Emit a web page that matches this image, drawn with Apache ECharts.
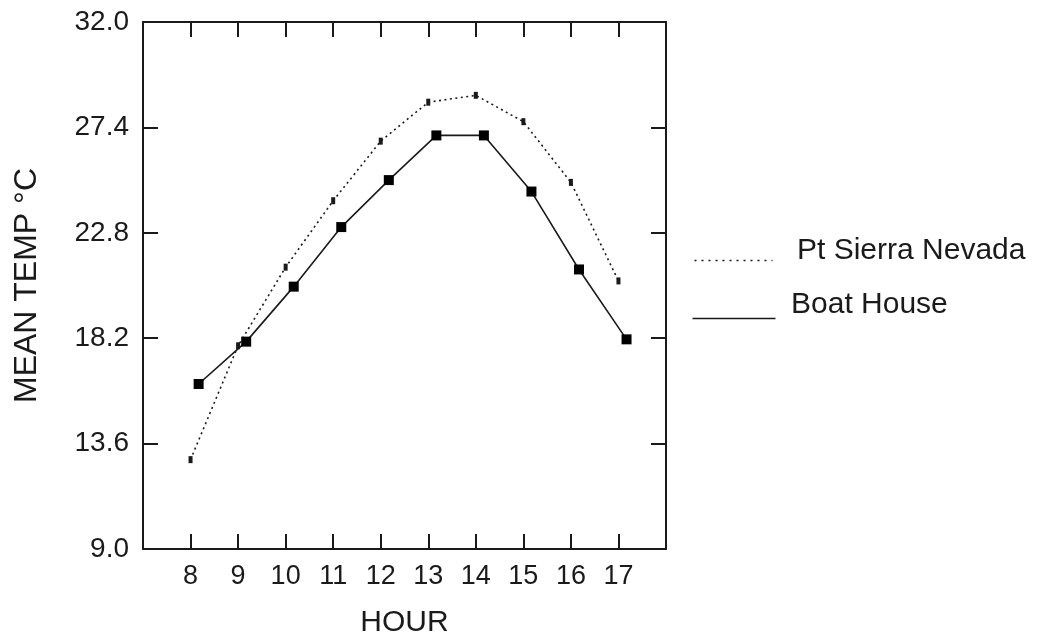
<!DOCTYPE html>
<html>
<head>
<meta charset="utf-8">
<title>Mean temperature by hour</title>
<script src="https://cdn.jsdelivr.net/npm/echarts@6.0.0/dist/echarts.min.js"></script>
<style>
  html, body { margin: 0; padding: 0; background: #fff; }
  #chart { width: 1038px; height: 634px; }
</style>
</head>
<body>
<div id="chart"></div>
<script>
  // hour ticks and the two sites
  var sierraHours = [8, 9, 10, 11, 12, 13, 14, 15, 16, 17];
  var sierraTemp = [12.9, 17.87, 21.3, 24.2, 26.8, 28.5, 28.8, 27.65, 25.0, 20.7];
  // boat house readings sit a little after the hour
  var boatHours = [8.17, 9.17, 10.17, 11.17, 12.17, 13.17, 14.17, 15.17, 16.17, 17.17];
  var boatTemp = [16.2, 18.05, 20.45, 23.05, 25.1, 27.05, 27.05, 24.6, 21.2, 18.15];
  var tempTicks = [9.0, 13.6, 18.2, 22.8, 27.4, 32.0];

  var ink = '#1a1a1a';
  var font = '"Liberation Sans", Arial, sans-serif';

  var myChart = echarts.init(document.getElementById('chart'));

  function pairs(xs, ys) {
    var out = [];
    for (var i = 0; i < xs.length; i++) out.push([xs[i], ys[i]]);
    return out;
  }

  var frameLine = { show: true, onZero: false, lineStyle: { color: ink, width: 2 } };
  var frameTick = { show: true, inside: true, length: 15, lineStyle: { color: ink, width: 2 } };

  option = {
    animation: false,
    backgroundColor: '#fff',
    grid: { left: 143, right: 372, top: 22, bottom: 85, containLabel: false, outerBoundsMode: 'none' },
    xAxis: [
      {
        type: 'value', position: 'bottom', min: 7, max: 18, interval: 1,
        axisLine: frameLine,
        axisTick: frameTick,
        splitLine: { show: false },
        axisLabel: {
          margin: 14, color: ink, fontSize: 27, fontFamily: font,
          formatter: function (v) { return (v === 7 || v === 18) ? '' : String(v); }
        },
        name: 'HOUR', nameLocation: 'middle', nameGap: 59,
        nameTextStyle: { color: ink, fontSize: 30, fontFamily: font }
      },
      {
        type: 'value', position: 'top', min: 7, max: 18, interval: 1,
        axisLine: frameLine,
        axisTick: frameTick,
        axisLabel: { show: false },
        splitLine: { show: false }
      }
    ],
    yAxis: [
      {
        type: 'value', position: 'left', min: 9, max: 32,
        axisLine: frameLine,
        axisTick: Object.assign({ customValues: tempTicks }, frameTick),
        splitLine: { show: false },
        axisLabel: {
          customValues: tempTicks, margin: 14, color: ink, fontSize: 28, fontFamily: font,
          formatter: function (v) { return v.toFixed(1); }
        },
        name: 'MEAN TEMP °C', nameLocation: 'middle', nameRotate: 90, nameGap: 100,
        nameTextStyle: { color: ink, fontSize: 32, fontFamily: font }
      },
      {
        type: 'value', position: 'right', min: 9, max: 32,
        axisLine: frameLine,
        axisTick: Object.assign({ customValues: tempTicks }, frameTick),
        axisLabel: { show: false },
        splitLine: { show: false }
      }
    ],
    series: [
      {
        name: 'Pt Sierra Nevada',
        type: 'line',
        data: pairs(sierraHours, sierraTemp),
        symbol: 'rect', symbolSize: [4, 7],
        itemStyle: { color: ink },
        lineStyle: { color: ink, width: 1.6, type: [2, 3.5] }
      },
      {
        name: 'Boat House',
        type: 'line',
        data: pairs(boatHours, boatTemp),
        symbol: 'rect', symbolSize: 10,
        itemStyle: { color: '#000' },
        lineStyle: { color: ink, width: 1.6 }
      }
    ],
    graphic: [
      {
        type: 'line', left: 692, top: 258,
        shape: { x1: 0, y1: 0, x2: 78, y2: 0 },
        style: { stroke: ink, lineWidth: 1.6, lineDash: [2, 5] }
      },
      {
        type: 'text', left: 797, top: 236,
        style: { text: 'Pt Sierra Nevada', fill: ink, font: '30px ' + font }
      },
      {
        type: 'line', left: 690, top: 316,
        shape: { x1: 0, y1: 0, x2: 83, y2: 0 },
        style: { stroke: ink, lineWidth: 1.6 }
      },
      {
        type: 'text', left: 791, top: 290,
        style: { text: 'Boat House', fill: ink, font: '30px ' + font }
      }
    ]
  };

  myChart.setOption(option);
</script>
</body>
</html>
